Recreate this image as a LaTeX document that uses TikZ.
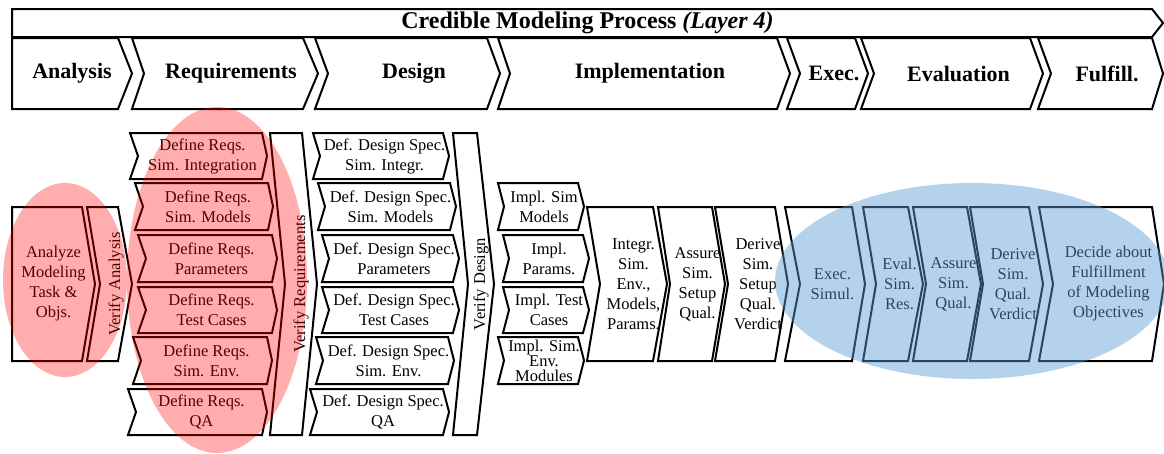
\documentclass[tikz,border=0pt]{standalone}
\usepackage{fontspec}
\setmainfont{Liberation Serif}
\definecolor{evalblue}{RGB}{91,155,213}

% chevron: [text opts]{name}{x left}{x right}{y top}{y bottom}{notch}{point}{text}
\newcommand{\chev}[9][]{%
  \draw[chevline] (#3,#5) -- (#4,#5) -- ({#4+#8},{(#5+#6)/2}) -- (#4,#6)
    -- (#3,#6) -- ({#3+#7},{(#5+#6)/2}) -- cycle;
  \node[steptext,#1] (#2) at ({(#3+#7+#4+#8)/2},{(#5+#6)/2}) {#9};
}

\begin{document}
\begin{tikzpicture}
    [x=1pt, y=-1pt,
    chevline/.style={line width=2pt, line join=miter},
    steptext/.style={inner sep=0pt, align=center, font=\fontsize{16.5}{20}\selectfont},
    phase/.style={font=\bfseries\fontsize{22}{26}\selectfont},
    headline/.style={font=\bfseries\fontsize{24}{28}\selectfont},
    redblob/.style={fill=red, fill opacity=0.32},
    blueblob/.style={fill=evalblue, fill opacity=0.45}]
        \useasboundingbox (0,0) rectangle (1164,453);

        % layer bar and phases
        \chev[headline]{process}{12}{1152}{9}{37}{0}{11}{Credible Modeling Process \textit{(Layer 4)}}
        \chev[phase]{analysis}{12}{118}{38}{109}{0}{14}{Analysis}
        \chev[phase]{requirements}{132}{303}{38}{109}{12}{15}{Requirements}
        \chev[phase]{design}{315}{487}{38}{109}{13}{13}{Design}
        \chev[phase]{implementation}{498}{777}{38}{109}{12}{13}{Implementation}
        \chev[phase]{exec}{787}{855}{38}{109}{13}{13}{Exec.}
        \chev[phase]{evaluation}{861}{1030}{38}{109}{13}{13}{Evaluation}
        \chev[phase]{fulfill}{1038}{1152}{38}{109}{13}{11}{Fulfill.}

        % analysis
        \chev{analyze}{12}{82}{207}{361}{0}{13}{Analyze\\Modeling\\Task \&\\Objs.}
        \chev[rotate=90]{verifyana}{87}{118}{207}{361}{13}{14}{Verify Analysis}

        % requirements
        \chev{reqint}{130}{262}{133}{179}{8}{5}{Define Reqs.\\Sim. Integration}
        \chev{reqmod}{135}{268}{183}{230}{8}{5}{Define Reqs.\\Sim. Models}
        \chev{reqpar}{138}{272}{235}{282}{8}{5}{Define Reqs.\\Parameters}
        \chev{reqtest}{138}{272}{287}{333}{8}{5}{Define Reqs.\\Test Cases}
        \chev{reqenv}{133}{267}{337}{384}{8}{5}{Define Reqs.\\Sim. Env.}
        \chev{reqqa}{128}{262}{389}{435}{8}{5}{Define Reqs.\\QA}
        \chev[rotate=90]{verifyreq}{270}{302}{133}{435}{15}{15}{Verify Requirements}

        % design
        \chev{desint}{313}{443}{133}{179}{7}{6}{Def. Design Spec.\\Sim. Integr.}
        \chev{desmod}{318}{450}{183}{230}{7}{6}{Def. Design Spec.\\Sim. Models}
        \chev{despar}{322}{453}{235}{282}{7}{6}{Def. Design Spec.\\Parameters}
        \chev{destest}{322}{453}{287}{333}{7}{6}{Def. Design Spec.\\Test Cases}
        \chev{desenv}{316}{448}{337}{384}{7}{6}{Def. Design Spec.\\Sim. Env.}
        \chev{desqa}{310}{443}{389}{435}{7}{6}{Def. Design Spec.\\QA}
        \chev[rotate=90]{verifydes}{453}{477}{133}{435}{15}{17}{Verify Design}

        % implementation
        \chev{implmod}{498}{578}{183}{230}{6}{6}{Impl. Sim\\Models}
        \chev{implpar}{503}{583}{235}{282}{6}{6}{Impl.\\Params.}
        \chev{impltest}{503}{583}{287}{333}{6}{6}{Impl. Test\\Cases}
        \chev[font=\fontsize{16.5}{15}\selectfont]{implenv}{498}{578}{337}{384}{6}{6}{Impl. Sim.\\Env.\\Modules}
        \chev{integr}{587}{653}{207}{361}{13}{14}{Integr.\\Sim.\\Env.,\\Models,\\Params.}
        \chev{assuresetup}{658}{712}{207}{361}{12}{13}{Assure\\Sim.\\Setup\\Qual.}
        \chev{derivesetup}{715}{775}{207}{361}{13}{13}{Derive\\Sim.\\Setup\\Qual.\\Verdict}

        % execution, evaluation, fulfillment
        \chev{execsim}{785}{852}{207}{361}{15}{13}{Exec.\\Simul.}
        \chev{evalres}{863}{908}{207}{361}{13}{15}{Eval.\\Sim.\\Res.}
        \chev{assurequal}{913}{967}{207}{361}{13}{14}{Assure\\Sim.\\Qual.}
        \chev{derivequal}{970}{1029}{207}{361}{13}{14}{Derive\\Sim.\\Qual.\\Verdict}
        \chev{decide}{1039}{1152}{207}{361}{14}{12}{Decide about\\Fulfillment\\of Modeling\\Objectives}

        % highlights
        \fill[redblob] (65,280) ellipse [x radius=62, y radius=97];
        \fill[redblob] (217,280) ellipse [x radius=90, y radius=173];
        \fill[blueblob] (972,281) ellipse [x radius=197, y radius=98];
   \end{tikzpicture}
\end{document}
